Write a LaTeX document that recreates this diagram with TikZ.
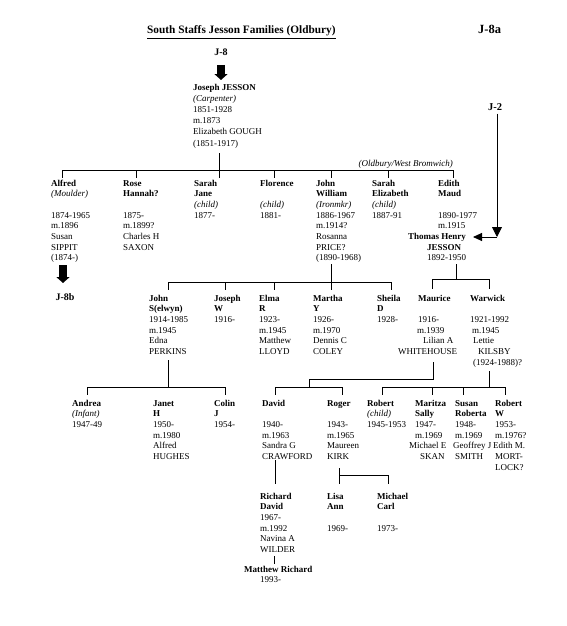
\documentclass[tikz,border=0pt]{standalone}
\usepackage{fontspec}
\setmainfont{Liberation Serif}
\usetikzlibrary{arrows.meta}
\newcommand{\ppl}[1]{\begin{tabular}[t]{@{}l@{}}#1\end{tabular}}
\begin{document}
\begin{tikzpicture}[x=1pt,y=-1pt,
  person/.style={anchor=base west,inner sep=0pt,font=\fontsize{9}{10.7}\selectfont},
  lbl/.style={inner sep=0pt,font=\bfseries\fontsize{10}{12}\selectfont},
  tree/.style={line width=0.9pt},
  bigarrow/.style={line width=8pt,-{Triangle[length=6pt,width=13pt]}},
  tipdown/.style={line width=0.9pt,-{Triangle[length=10pt,width=10pt]}},
  tipleft/.style={line width=0.9pt,-{Triangle[length=9pt,width=8pt]}}]
\useasboundingbox[fill=white] (0,0) rectangle (567,626);

% headings
\node[anchor=base west,inner sep=0pt,font=\bfseries\fontsize{11.3}{13}\selectfont] (title) at (147,34) {\underline{South Staffs Jesson Families (Oldbury)}};
\node[anchor=base west,inner sep=0pt,font=\bfseries\fontsize{12.5}{14}\selectfont] (J8a) at (478,34) {J-8a};
\node[lbl] (J8) at (221,52) {J-8};
\node[lbl,font=\bfseries\fontsize{10.5}{12}\selectfont] (J2) at (495,107) {J-2};
\node[lbl] (J8b) at (65,297) {J-8b};

% generation 1
\node[person,font=\fontsize{9}{11.2}\selectfont] (joseph) at (193,90) {\ppl{\textbf{Joseph JESSON}\\ \textit{(Carpenter)}\\ 1851-1928\\ m.1873\\ Elizabeth GOUGH\\ (1851-1917)}};

% generation 2
\node[person] (alfred) at (51,186) {\ppl{\textbf{Alfred}\\ \textit{(Moulder)}\\ \\ 1874-1965\\ m.1896\\ Susan\\ SIPPIT\\ (1874-)}};
\node[person] (rose) at (123,186) {\ppl{\textbf{Rose}\\ \textbf{Hannah?}\\ \\ 1875-\\ m.1899?\\ Charles H\\ SAXON}};
\node[person] (sarahj) at (194,186) {\ppl{\textbf{Sarah}\\ \textbf{Jane}\\ \textit{(child)}\\ 1877-}};
\node[person] (florence) at (260,186) {\ppl{\textbf{Florence}\\ \\ \textit{(child)}\\ 1881-}};
\node[person] (johnw) at (316,186) {\ppl{\textbf{John}\\ \textbf{William}\\ \textit{(Ironmkr)}\\ 1886-1967\\ m.1914?\\ Rosanna\\ PRICE?\\ (1890-1968)}};
\node[person] (sarahe) at (372,186) {\ppl{\textbf{Sarah}\\ \textbf{Elizabeth}\\ \textit{(child)}\\ 1887-91}};
\node[person] (edith) at (408,186) {\ppl{\hspace*{30pt}\textbf{Edith}\\ \hspace*{30pt}\textbf{Maud}\\ \\ \hspace*{30pt}1890-1977\\ \hspace*{30pt}m.1915\\ \textbf{Thomas Henry}\\ \hspace*{19pt}\textbf{JESSON}\\ \hspace*{19pt}1892-1950}};
\node[anchor=base east,inner sep=0pt,font=\itshape\fontsize{9}{10.7}\selectfont] (place) at (453,166) {(Oldbury/West Bromwich)};

% generation 3
\node[person] (johns) at (149,301) {\ppl{\textbf{John}\\ \textbf{S(elwyn)}\\ 1914-1985\\ m.1945\\ Edna\\ PERKINS}};
\node[person] (josephw) at (214,301) {\ppl{\textbf{Joseph}\\ \textbf{W}\\ 1916-}};
\node[person] (elma) at (259,301) {\ppl{\textbf{Elma}\\ \textbf{R}\\ 1923-\\ m.1945\\ Matthew\\ LLOYD}};
\node[person] (martha) at (313,301) {\ppl{\textbf{Martha}\\ \textbf{Y}\\ 1926-\\ m.1970\\ Dennis C\\ COLEY}};
\node[person] (sheila) at (377,301) {\ppl{\textbf{Sheila}\\ \textbf{D}\\ 1928-}};
\node[person] (maurice) at (398,301) {\ppl{\hspace*{20pt}\textbf{Maurice}\\ \\ \hspace*{20pt}1916-\\ \hspace*{19pt}m.1939\\ \hspace*{25pt}Lilian A\\ WHITEHOUSE}};
\node[person] (warwick) at (470,301) {\ppl{\textbf{Warwick}\\ \\ 1921-1992\\ \hspace*{2pt}m.1945\\ \hspace*{3pt}Lettie\\ \hspace*{8pt}KILSBY\\ \hspace*{3pt}(1924-1988)?}};

% generation 4
\node[person] (andrea) at (72,406) {\ppl{\textbf{Andrea}\\ \textit{(Infant)}\\ 1947-49}};
\node[person] (janet) at (153,406) {\ppl{\textbf{Janet}\\ \textbf{H}\\ 1950-\\ m.1980\\ Alfred\\ HUGHES}};
\node[person] (colin) at (214,406) {\ppl{\textbf{Colin}\\ \textbf{J}\\ 1954-}};
\node[person] (david) at (262,406) {\ppl{\textbf{David}\\ \\ 1940-\\ m.1963\\ Sandra G\\ CRAWFORD}};
\node[person] (roger) at (327,406) {\ppl{\textbf{Roger}\\ \\ 1943-\\ m.1965\\ Maureen\\ KIRK}};
\node[person] (robert) at (367,406) {\ppl{\textbf{Robert}\\ \textit{(child)}\\ 1945-1953}};
\node[person] (maritza) at (409,406) {\ppl{\hspace*{6pt}\textbf{Maritza}\\ \hspace*{6pt}\textbf{Sally}\\ \hspace*{6pt}1947-\\ \hspace*{6pt}m.1969\\ Michael E\\ \hspace*{11pt}SKAN}};
\node[person] (susan) at (453,406) {\ppl{\hspace*{2pt}\textbf{Susan}\\ \hspace*{2pt}\textbf{Roberta}\\ \hspace*{2pt}1948-\\ \hspace*{2pt}m.1969\\ Geoffrey J\\ \hspace*{2pt}SMITH}};
\node[person] (robertw) at (493,406) {\ppl{\hspace*{2pt}\textbf{Robert}\\ \hspace*{2pt}\textbf{W}\\ \hspace*{2pt}1953-\\ \hspace*{2pt}m.1976?\\ Edith M.\\ \hspace*{2pt}MORT-\\ \hspace*{2pt}LOCK?}};

% generation 5 and 6
\node[person] (richard) at (260,499) {\ppl{\textbf{Richard}\\ \textbf{David}\\ 1967-\\ m.1992\\ Navina A\\ WILDER}};
\node[person] (lisa) at (327,499) {\ppl{\textbf{Lisa}\\ \textbf{Ann}\\ \\ 1969-}};
\node[person] (michael) at (377,499) {\ppl{\textbf{Michael}\\ \textbf{Carl}\\ \\ 1973-}};
\node[person] (matthew) at (244,572) {\ppl{\textbf{Matthew Richard}\\ \hspace*{16pt}1993-}};

% reference arrows
\coordinate (a8) at (221,65);
\draw[bigarrow] (a8) -- (a8 |- 0,80);
\coordinate (a8b) at (63,265);
\draw[bigarrow] (a8b) -- (a8b |- 0,283);
\coordinate (jcorner) at (497,237);
\coordinate (jtip) at (473,237);
\draw[tipdown] (J2.south -| jcorner) ++(0,3) -- (jcorner);
\draw[tipleft] (jcorner) -- (jtip);

% Joseph's children
\draw[tree] (219,153) -- (219,178);
\draw[tree] (62,170) -- (453,170);
\foreach \x in {62,136,274,331,388,453} \draw[tree] (\x,170) -- (\x,178);

% John William's children
\draw[tree] (331,264) -- (331,290);
\draw[tree] (168,282) -- (391,282);
\foreach \x in {168,225,274,391} \draw[tree] (\x,282) -- (\x,290);

% Edith's children
\draw[tree] (456,264) -- (456,279);
\draw[tree] (432,279) -- (489,279);
\foreach \x in {432,489} \draw[tree] (\x,279) -- (\x,289);

% John S's children
\draw[tree] (168,360) -- (168,387);
\draw[tree] (87,387) -- (225,387);
\foreach \x in {87,225} \draw[tree] (\x,387) -- (\x,395);

% Maurice's children
\draw[tree] (433,362) -- (433,379) -- (309,379) -- (309,387);
\draw[tree] (275,387) -- (342,387);
\foreach \x in {275,342} \draw[tree] (\x,387) -- (\x,395);

% Warwick's children
\draw[tree] (489,371) -- (489,387);
\draw[tree] (382,387) -- (505,387);
\foreach \x in {382,432,463,505} \draw[tree] (\x,387) -- (\x,395);

% David's son, Roger's children
\draw[tree] (275,460) -- (275,484);
\draw[tree] (339,468) -- (339,484);
\draw[tree] (339,475) -- (388,475) -- (388,484);
\draw[tree] (274,556) -- (274,564);
\end{tikzpicture}
\end{document}
